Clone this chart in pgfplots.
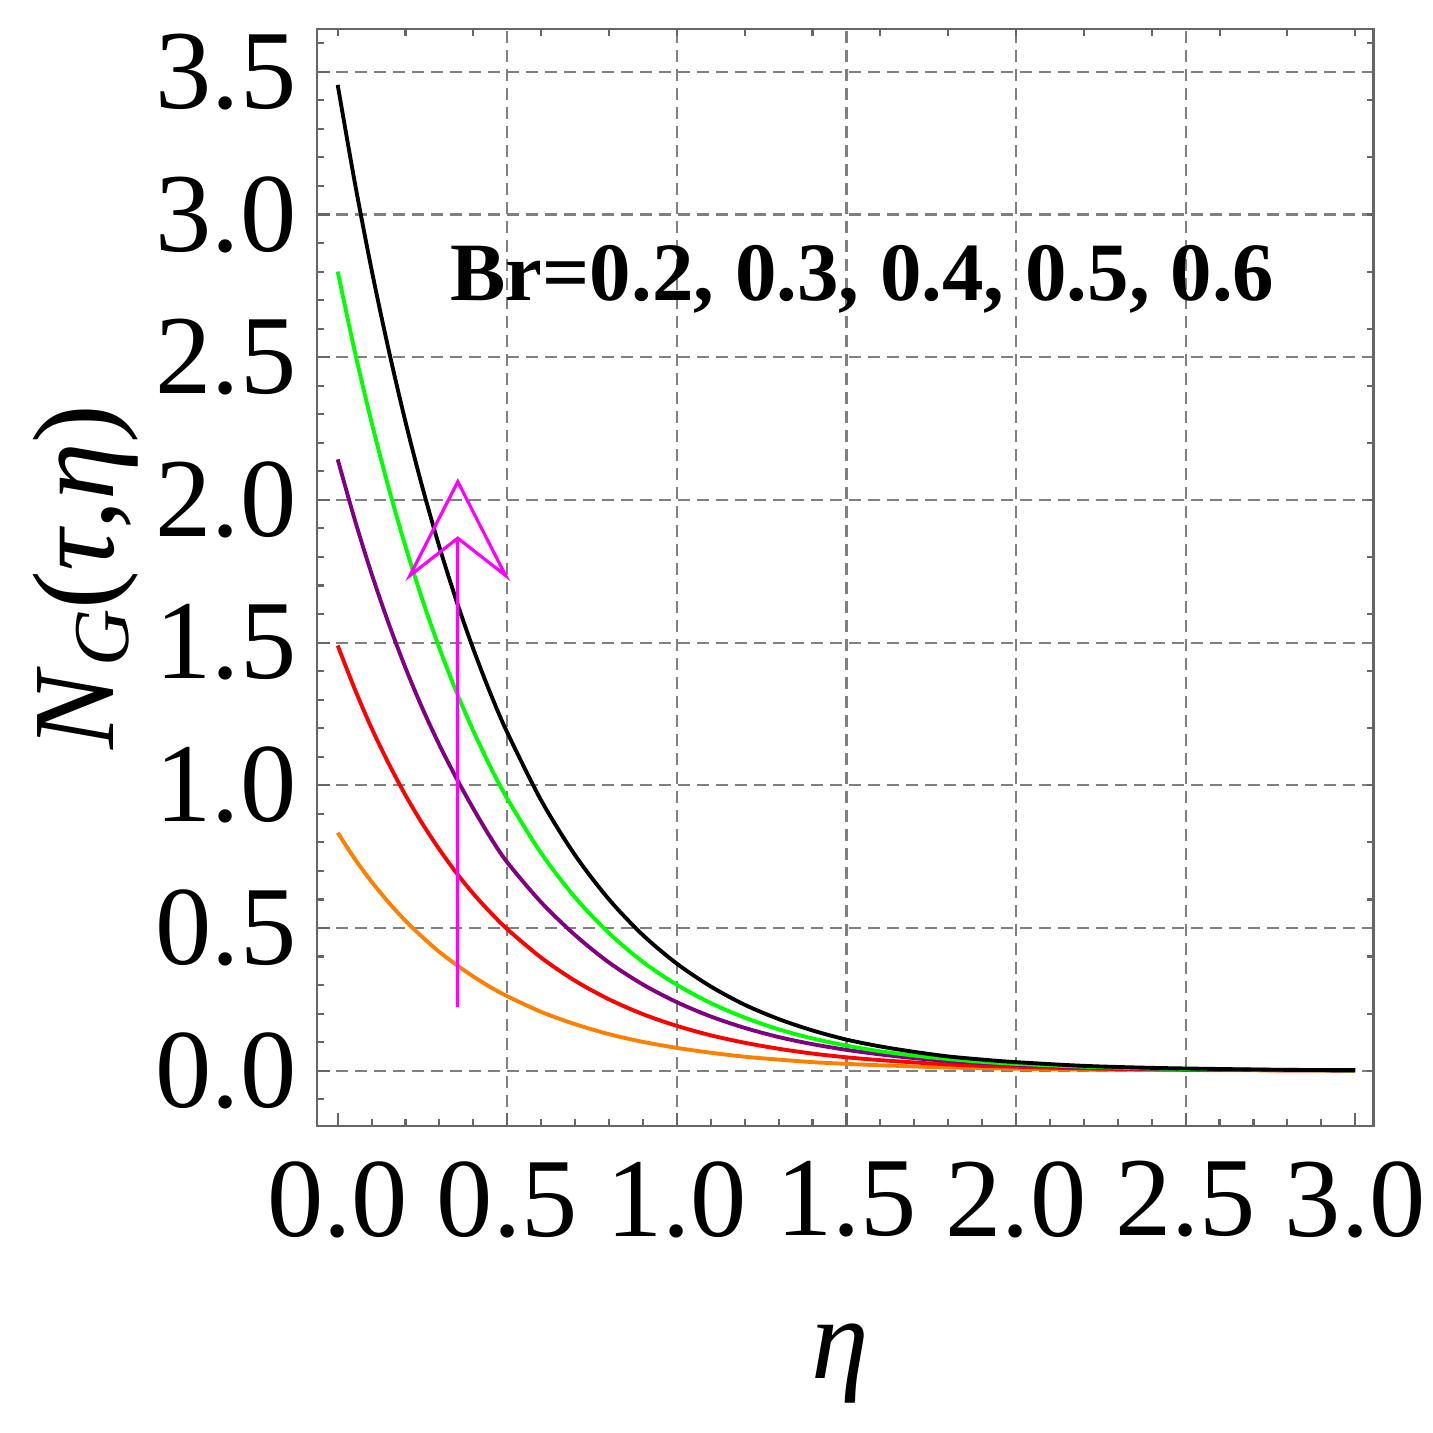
\documentclass[border=0pt]{standalone}
\usepackage{fontspec}
\setmainfont{Liberation Serif}
\usepackage{pgfplots}
\pgfplotsset{compat=1.18}
\definecolor{framegray}{HTML}{666666}
\definecolor{gridgray}{HTML}{808080}
\definecolor{mmaorange}{rgb}{1,0.5,0}
\definecolor{mmapurple}{rgb}{0.5,0,0.5}
\definecolor{mmagreen}{rgb}{0,1,0}
\definecolor{mmamagenta}{rgb}{1,0,1}
\begin{document}
\begin{tikzpicture}
\useasboundingbox (0,0) rectangle (14.33cm,14.33cm);
\begin{axis}[
  at={(3.17cm,3.072cm)}, anchor=south west,
  scale only axis, width=10.565cm, height=10.965cm,
  xmin=-0.061, xmax=3.054, ymin=-0.193, ymax=3.649,
  axis line style={draw=framegray, line width=0.6pt},
  xtick={0.5,1.0,1.5,2.0,2.5},
  extra x ticks={0,3},
  extra x tick style={grid=none},
  ytick={0,0.5,1,1.5,2,2.5,3,3.5},
  minor xtick={0.1,0.2,0.3,0.4,0.6,0.7,0.8,0.9,1.1,1.2,1.3,1.4,1.6,1.7,1.8,1.9,2.1,2.2,2.3,2.4,2.6,2.7,2.8,2.9},
  minor ytick={-0.1,0.1,0.2,0.3,0.4,0.6,0.7,0.8,0.9,1.1,1.2,1.3,1.4,1.6,1.7,1.8,1.9,2.1,2.2,2.3,2.4,2.6,2.7,2.8,2.9,3.1,3.2,3.3,3.4,3.6},
  xtick pos=left, ytick pos=left,
  tick align=inside,
  major tick length=1.3mm, minor tick length=0.7mm,
  tick style={draw=framegray, line width=0.6pt},
  grid=major,
  major grid style={draw=gridgray, line width=0.6pt, dash pattern=on 1.2mm off 0.7mm},
  /pgf/number format/.cd, fixed, fixed zerofill, precision=1, assume math mode=true,
  /pgfplots/.cd,
  tick label style={font=\fontsize{32}{38}\selectfont},
  xticklabel style={anchor=north, inner sep=0pt, yshift=-3.5mm},
  yticklabel style={anchor=east, inner sep=0pt, xshift=-2mm},
  xlabel={\fontsize{33}{40}\selectfont\textit{η}},
  xlabel style={at={(axis description cs:0.495,-0.2172)}, anchor=center, inner sep=0pt},
  ylabel={\fontsize{33}{40}\selectfont\textit{N}\raisebox{-0.13em}{\fontsize{22.5}{26}\selectfont\textit{G}}(\textit{τ},\textit{η})},
  ylabel style={at={(axis description cs:-0.2186,0.5005)}, anchor=center, inner sep=0pt},
]
\addplot[mmaorange, line width=1.1pt, smooth] coordinates {(0,0.834)(0.05,0.743)(0.1,0.662)(0.15,0.590)(0.2,0.525)(0.25,0.468)(0.3,0.416)(0.35,0.371)(0.4,0.330)(0.45,0.293)(0.5,0.261)(0.6,0.206)(0.7,0.163)(0.8,0.128)(0.9,0.101)(1.0,0.080)(1.1,0.063)(1.2,0.049)(1.3,0.039)(1.4,0.030)(1.5,0.024)(1.6,0.019)(1.7,0.015)(1.8,0.011)(1.9,0.009)(2.0,0.007)(2.2,0.004)(2.4,0.003)(2.6,0.002)(2.8,0.001)(3.0,0.001)};
\addplot[red, line width=1.1pt, smooth] coordinates {(0,1.490)(0.05,1.338)(0.1,1.200)(0.15,1.077)(0.2,0.965)(0.25,0.865)(0.3,0.775)(0.35,0.693)(0.4,0.620)(0.45,0.555)(0.5,0.496)(0.6,0.396)(0.7,0.315)(0.8,0.250)(0.9,0.198)(1.0,0.157)(1.1,0.124)(1.2,0.098)(1.3,0.077)(1.4,0.060)(1.5,0.047)(1.6,0.037)(1.7,0.029)(1.8,0.022)(1.9,0.017)(2.0,0.014)(2.2,0.008)(2.4,0.005)(2.6,0.003)(2.8,0.002)(3.0,0.001)};
\addplot[mmapurple, line width=1.1pt, smooth] coordinates {(0,2.142)(0.05,1.932)(0.1,1.741)(0.15,1.568)(0.2,1.411)(0.25,1.269)(0.3,1.141)(0.35,1.025)(0.4,0.918)(0.45,0.818)(0.5,0.730)(0.6,0.590)(0.7,0.475)(0.8,0.379)(0.9,0.302)(1.0,0.240)(1.1,0.190)(1.2,0.150)(1.3,0.118)(1.4,0.093)(1.5,0.073)(1.6,0.057)(1.7,0.044)(1.8,0.034)(1.9,0.027)(2.0,0.021)(2.2,0.012)(2.4,0.007)(2.6,0.004)(2.8,0.002)(3.0,0.001)};
\addplot[mmagreen, line width=1.1pt, smooth] coordinates {(0,2.800)(0.05,2.522)(0.1,2.271)(0.15,2.043)(0.2,1.836)(0.25,1.649)(0.3,1.480)(0.35,1.327)(0.4,1.190)(0.45,1.065)(0.5,0.953)(0.6,0.762)(0.7,0.607)(0.8,0.482)(0.9,0.381)(1.0,0.301)(1.1,0.237)(1.2,0.186)(1.3,0.145)(1.4,0.113)(1.5,0.088)(1.6,0.068)(1.7,0.053)(1.8,0.041)(1.9,0.031)(2.0,0.024)(2.2,0.014)(2.4,0.008)(2.6,0.005)(2.8,0.003)(3.0,0.001)};
\addplot[black, line width=1.1pt, smooth] coordinates {(0,3.454)(0.05,3.115)(0.1,2.806)(0.15,2.527)(0.2,2.273)(0.25,2.043)(0.3,1.835)(0.35,1.647)(0.4,1.477)(0.45,1.323)(0.5,1.185)(0.6,0.947)(0.7,0.755)(0.8,0.600)(0.9,0.475)(1.0,0.375)(1.1,0.295)(1.2,0.231)(1.3,0.181)(1.4,0.141)(1.5,0.109)(1.6,0.085)(1.7,0.066)(1.8,0.050)(1.9,0.039)(2.0,0.030)(2.2,0.017)(2.4,0.010)(2.6,0.006)(2.8,0.003)(3.0,0.002)};
\addplot[mmamagenta, line width=0.9pt] coordinates {(0.354,0.224)(0.354,1.866)};
\addplot[mmamagenta, line width=0.9pt, line join=miter] coordinates {(0.213,1.735)(0.354,2.064)(0.495,1.735)(0.354,1.866)(0.213,1.735)(0.354,2.064)};
\node[anchor=base, inner sep=0pt, font=\bfseries\fontsize{23.6}{28}\selectfont] at (axis cs:1.547,2.700) {Br=0.2, 0.3, 0.4, 0.5, 0.6};
\end{axis}
\begin{axis}[
  at={(3.17cm,3.072cm)}, anchor=south west,
  scale only axis, width=10.565cm, height=10.965cm,
  xmin=-0.061, xmax=3.054, ymin=-0.193, ymax=3.649,
  axis line style={draw=none},
  xtick={0,0.2,0.4,0.6,0.8,1.0,1.2,1.4,1.6,1.8,2.0,2.2,2.4,2.6,2.8,3.0},
  ytick={-0.2,0,0.2,0.4,0.6,0.8,1.0,1.2,1.4,1.6,1.8,2.0,2.2,2.4,2.6,2.8,3.0,3.2,3.4,3.6},
  xtick pos=right, ytick pos=right,
  tick align=inside, major tick length=0.7mm,
  tick style={draw=framegray, line width=0.6pt},
  xticklabels={}, yticklabels={},
  tick label style={text opacity=0, fill opacity=0, draw=none, font=\tiny, inner sep=0pt},
]
\end{axis}
\end{tikzpicture}
\end{document}
